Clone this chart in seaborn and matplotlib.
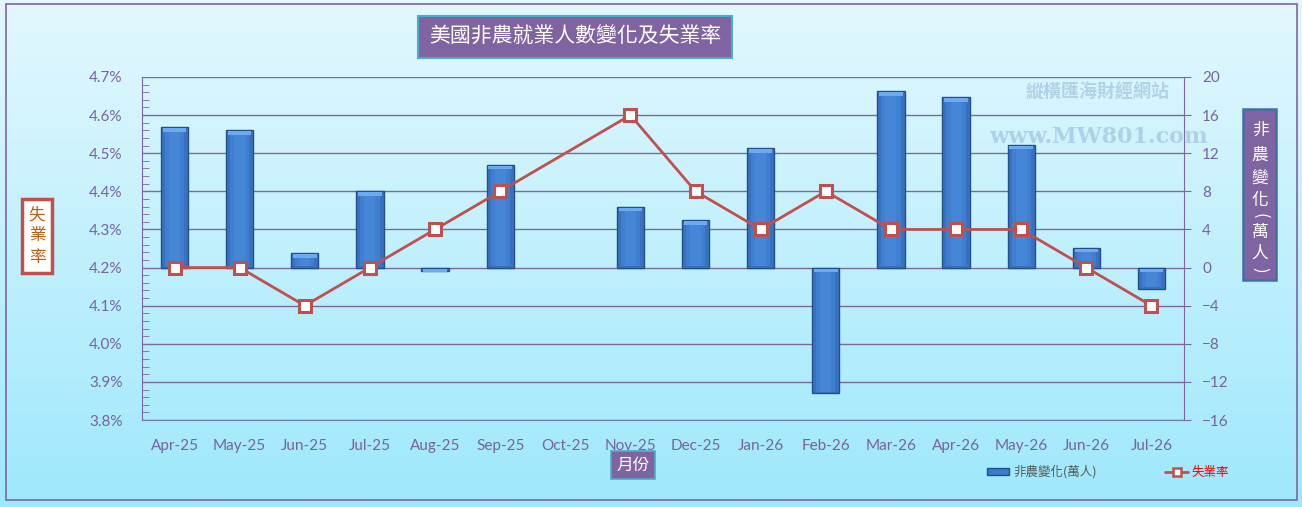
import matplotlib
matplotlib.use("Agg")
import matplotlib.pyplot as plt
import numpy as np
import pandas as pd
import seaborn as sns
from matplotlib.patches import Rectangle, Patch
from matplotlib.lines import Line2D
from matplotlib.ticker import MultipleLocator, FuncFormatter
from matplotlib.colors import LinearSegmentedColormap

# data
months = ["Apr-25", "May-25", "Jun-25", "Jul-25", "Aug-25", "Sep-25", "Oct-25", "Nov-25",
          "Dec-25", "Jan-26", "Feb-26", "Mar-26", "Apr-26", "May-26", "Jun-26", "Jul-26"]
nfp_change = [14.7, 14.4, 1.5, 8.0, -0.4, 10.8, np.nan, 6.4,
              5.0, 12.5, -13.2, 18.5, 17.9, 12.9, 2.1, -2.2]   # 萬人
unemp_rate = [4.2, 4.2, 4.1, 4.2, 4.3, 4.4, np.nan, 4.6,
              4.4, 4.3, 4.4, 4.3, 4.3, 4.3, 4.2, 4.1]          # %

sns.set_style("white")
plt.rcParams['font.family'] = ['Lato', 'Noto Sans CJK TC', 'DejaVu Sans']
CJK = ['Noto Sans CJK TC', 'DejaVu Sans']

purple = '#8064a2'
tick_col = '#7862a0'
grid_col = '#7b6a9d'
red = '#c0504d'

fig = plt.figure(figsize=(13.02, 5.07), dpi=100)
W, H = 1302, 507

# gradient background
bg = fig.add_axes([0, 0, 1, 1], zorder=-10)
grad = np.linspace(0, 1, 256).reshape(-1, 1)
cmap = LinearSegmentedColormap.from_list('bg', ['#e3f8fe', '#9ee8fc'])
bg.imshow(grad, aspect='auto', cmap=cmap, extent=[0, 1, 0, 1], origin='upper')
bg.set_axis_off()
fig.patches.append(Rectangle((6 / W, 7 / H), (1297 - 6) / W, (500 - 4) / H,
                             transform=fig.transFigure, fill=False,
                             edgecolor=purple, linewidth=1.2, zorder=5))

# main axes: bars on the right axis
ax = fig.add_axes([142 / W, 1 - 420 / H, (1184 - 142) / W, (420 - 77) / H])
ax.patch.set_alpha(0)
df_bar = pd.DataFrame({'month': months, 'nfp': nfp_change}).dropna()
sns.barplot(data=df_bar, x='month', y='nfp', order=months, ax=ax,
            color='#3872be', edgecolor='#214f8c', linewidth=1, width=0.42,
            saturation=1, errorbar=None, zorder=2)
# lighter bevel at the top and a softer lighter middle
for p in list(ax.patches):
    h = p.get_height()
    if np.isnan(h) or h == 0:
        continue
    ytop = max(h, 0)
    x0, w = p.get_x(), p.get_width()
    ax.add_patch(Rectangle((x0 + w * 0.15, min(h, 0) + 0.15), w * 0.7, abs(h) - 0.5,
                           facecolor='#3f7fcf', edgecolor='none', zorder=2.4))
    ax.add_patch(Rectangle((x0 + w * 0.3, min(h, 0) + 0.15), w * 0.4, abs(h) - 0.5,
                           facecolor='#4586d6', edgecolor='none', zorder=2.5))
    ax.add_patch(Rectangle((x0 + 0.03, ytop - 0.5), w - 0.06, 0.4,
                           facecolor='#6eaaf0', edgecolor='none', zorder=3))

ax.set_ylim(-16, 20)
ax.yaxis.set_major_locator(MultipleLocator(4))
ax.set_xlim(-0.5, len(months) - 0.5)
ax.grid(axis='y', color=grid_col, linewidth=1, zorder=0)
ax.set_axisbelow(True)
ax.set_xlabel('')
ax.set_ylabel('')

# twin axes: unemployment rate on the left axis
ax2 = ax.twinx()
ax2.patch.set_alpha(0)
xpos = np.arange(len(months))
df_line = pd.DataFrame({'x': xpos, 'rate': unemp_rate}).dropna()
sns.lineplot(data=df_line, x='x', y='rate', ax=ax2, color=red, linewidth=2,
             marker='s', markersize=8, markerfacecolor='white',
             markeredgecolor=red, markeredgewidth=2.2, zorder=5)
ax2.set_ylim(3.8, 4.7)
ax2.set_xlim(-0.5, len(months) - 0.5)
ax2.yaxis.set_major_locator(MultipleLocator(0.1))
ax2.yaxis.set_minor_locator(MultipleLocator(0.02))
ax2.yaxis.set_major_formatter(FuncFormatter(lambda v, _: f'{v:.1f}%'))
ax2.set_xlabel('')
ax2.set_ylabel('')

# swap sides: bars axis on the right, rate axis on the left
ax.yaxis.tick_right()
ax.yaxis.set_label_position('right')
ax2.yaxis.tick_left()
ax2.yaxis.set_label_position('left')

for s in ['top', 'left']:
    ax.spines[s].set_visible(False)
ax.spines['right'].set_color(purple)
ax.spines['bottom'].set_color('#6a7fb0')
ax.tick_params(axis='y', left=False, labelleft=False, right=True, labelright=True,
               length=5, color=purple, labelcolor=tick_col, labelsize=11, pad=8)
ax.tick_params(axis='x', bottom=False, labelcolor=tick_col, labelsize=11, pad=10)

for s in ['top', 'right', 'bottom']:
    ax2.spines[s].set_visible(False)
ax2.spines['left'].set_color(purple)
ax2.tick_params(axis='y', which='major', right=False, labelright=False, left=True,
                labelleft=True, length=0, labelcolor=tick_col, labelsize=11, pad=14)
ax2.tick_params(axis='y', which='minor', right=False, left=True, direction='in',
                length=5, color=purple)

# title box
fig.text(575 / W, 1 - 37 / H, '美國非農就業人數變化及失業率', family=CJK, fontsize=15,
         color='white', ha='center', va='center', zorder=10,
         bbox=dict(boxstyle='square,pad=0.5', facecolor=purple, edgecolor='#4bacc6', linewidth=1.5))

# left axis label
fig.text(37 / W, 1 - 236 / H, '失\n業\n率', family=CJK, fontsize=12, color='#c55a11',
         ha='center', va='center', linespacing=1.35, zorder=10,
         bbox=dict(boxstyle='square,pad=0.4', facecolor='white', edgecolor=red, linewidth=2.5))

# right axis label: box plus stacked characters
fig.patches.append(Rectangle((1243 / W, 1 - 280 / H), 33 / W, 171 / H,
                             transform=fig.transFigure, facecolor=purple,
                             edgecolor='#3f6fa8', linewidth=1.8, zorder=9))
right_chars = [('非', 130, 0), ('農', 155, 0), ('變', 178, 0), ('化', 201, 0),
               ('(', 216, -90), ('萬', 232, 0), ('人', 253, 0), (')', 270, -90)]
for ch, yy, rot in right_chars:
    fig.text(1260 / W, 1 - yy / H, ch, family=CJK, fontsize=12, color='white',
             ha='center', va='center', rotation=rot, zorder=10)

# x axis label
fig.text(633 / W, 1 - 465 / H, '月份', family=CJK, fontsize=12, color='white',
         ha='center', va='center', zorder=10,
         bbox=dict(boxstyle='square,pad=0.35', facecolor=purple, edgecolor='#4bacc6', linewidth=1.2))

# watermark
fig.text(1098 / W, 1 - 92 / H, '縱橫匯海財經網站', family=CJK, fontsize=13, weight='bold',
         color='#9cc0dc', alpha=0.65, ha='center', va='center', zorder=1)
fig.text(1098 / W, 1 - 137 / H, 'www.MW801.com', family=['DejaVu Serif'], fontsize=16,
         weight='bold', color='#9cc0dc', alpha=0.65, ha='center', va='center', zorder=1)

# legend
h_bar = Patch(facecolor='#3c7bc8', edgecolor='#214f8c', label='非農變化(萬人)')
h_line = Line2D([], [], color=red, linewidth=2, marker='s', markersize=6,
                markerfacecolor='white', markeredgecolor=red, markeredgewidth=1.8, label='失業率')
leg = fig.legend(handles=[h_bar, h_line], loc='center', bbox_to_anchor=(1108 / W, 1 - 472 / H),
                 ncol=2, frameon=False, columnspacing=5.5, handlelength=1.8, handleheight=0.5,
                 handletextpad=0.3, prop={'family': CJK, 'size': 9})
leg.get_texts()[0].set_color('#595959')
leg.get_texts()[1].set_color('#ff0000')

fig.savefig('out.png', dpi=100)
